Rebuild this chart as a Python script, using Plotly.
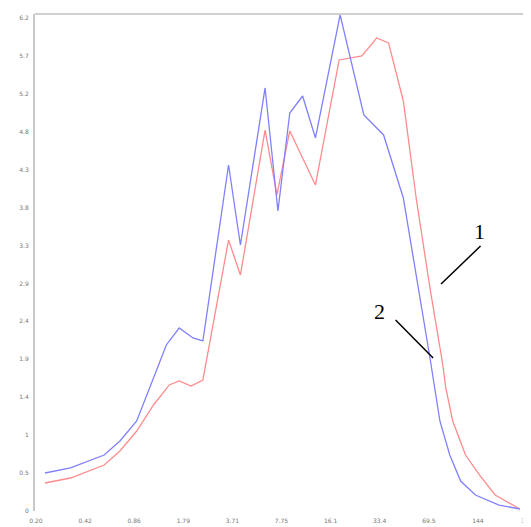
import plotly.graph_objects as go

# Series 2 (blue)
x_blue = [0.2284, 0.3346, 0.5518, 0.6983, 0.8964, 1.0853, 1.3937, 1.6870, 2.0733, 2.4017,
          3.5202, 4.2006, 6.0660, 7.3437, 8.7609, 10.607, 12.846, 18.548, 26.402, 35.43,
          47.55, 70.73, 76.13, 81.95, 94.94, 111.6, 139.1, 198.0, 269.7]
y_blue = [0.478, 0.541, 0.704, 0.880, 1.132, 1.547, 2.088, 2.301, 2.176, 2.138,
          4.351, 3.345, 5.320, 3.773, 5.005, 5.219, 4.691, 6.238, 4.980, 4.729,
          3.936, 1.924, 1.547, 1.132, 0.704, 0.377, 0.201, 0.075, 0.025]

# Series 1 (red)
x_red = [0.2284, 0.3346, 0.5518, 0.6983, 0.8964, 1.1511, 1.4566, 1.6870, 2.0132, 2.4017,
         3.5202, 4.2006, 6.0660, 7.2364, 8.7609, 12.846, 18.277, 25.637, 31.960, 38.14,
         47.55, 57.56, 70.73, 85.64, 89.49, 99.19, 120.1, 147.6, 186.7, 269.7]
y_red = [0.352, 0.415, 0.578, 0.755, 1.006, 1.333, 1.585, 1.635, 1.572, 1.647,
         3.408, 2.968, 4.791, 3.974, 4.779, 4.100, 5.672, 5.722, 5.948, 5.886,
         5.156, 3.936, 2.804, 1.836, 1.547, 1.132, 0.704, 0.453, 0.201, 0.025]

x_tick_labels = ["0.20", "0.42", "0.86", "1.79", "3.71", "7.75", "16.1", "33.4", "69.5", "144", "300"]
y_tick_labels = ["0", "0.5", "1", "1.4", "1.9", "2.4", "2.9", "3.3", "3.8", "4.3", "4.8", "5.2", "5.7", "6.2"]
curve_labels = ["1", "2"]

x_tickvals = [0.2 * 1500 ** (i / 10) for i in range(len(x_tick_labels))]
y_tickvals = [i * 6.2 / 13 for i in range(len(y_tick_labels))]

fig = go.Figure()
fig.add_trace(go.Scatter(x=x_red, y=y_red, mode="lines",
                         line=dict(color="#ff8c8c", width=1.3), name="1"))
fig.add_trace(go.Scatter(x=x_blue, y=y_blue, mode="lines",
                         line=dict(color="#8080ff", width=1.3), name="2"))

tickfont = dict(family="DejaVu Sans", size=6, color="#777777")
fig.update_layout(
    width=531, height=527,
    margin=dict(l=27, r=6, t=6, b=24),
    paper_bgcolor="white", plot_bgcolor="white",
    showlegend=False,
    xaxis=dict(type="log", range=[-0.7054, 2.4771], tickvals=x_tickvals, ticktext=x_tick_labels,
               showgrid=False, zeroline=False, showline=False, ticks="", tickfont=tickfont,
               ticklabelstandoff=5),
    yaxis=dict(range=[0, 6.25], tickvals=y_tickvals, ticktext=y_tick_labels,
               showgrid=False, zeroline=False, showline=True, linecolor="#c8c8c8", linewidth=2,
               ticks="", tickfont=tickfont, ticklabelstandoff=3),
)
# top border
fig.add_shape(type="line", xref="paper", yref="paper", x0=0, x1=1, y0=1, y1=1,
              line=dict(color="#d0d0d0", width=2))
# leader lines
fig.add_shape(type="line", xref="paper", yref="paper", x0=0.9056, y0=0.5332, x1=0.8253, y1=0.4567,
              line=dict(color="black", width=1.5))
fig.add_shape(type="line", xref="paper", yref="paper", x0=0.7329, y0=0.3843, x1=0.8092, y1=0.3078,
              line=dict(color="black", width=1.5))
fig.add_annotation(xref="paper", yref="paper", x=0.9177, y=0.5614, text=curve_labels[0], showarrow=False,
                   font=dict(family="Liberation Serif", size=22, color="black"))
fig.add_annotation(xref="paper", yref="paper", x=0.7149, y=0.4024, text=curve_labels[1], showarrow=False,
                   font=dict(family="Liberation Serif", size=22, color="black"))

fig.write_html("out.html")
